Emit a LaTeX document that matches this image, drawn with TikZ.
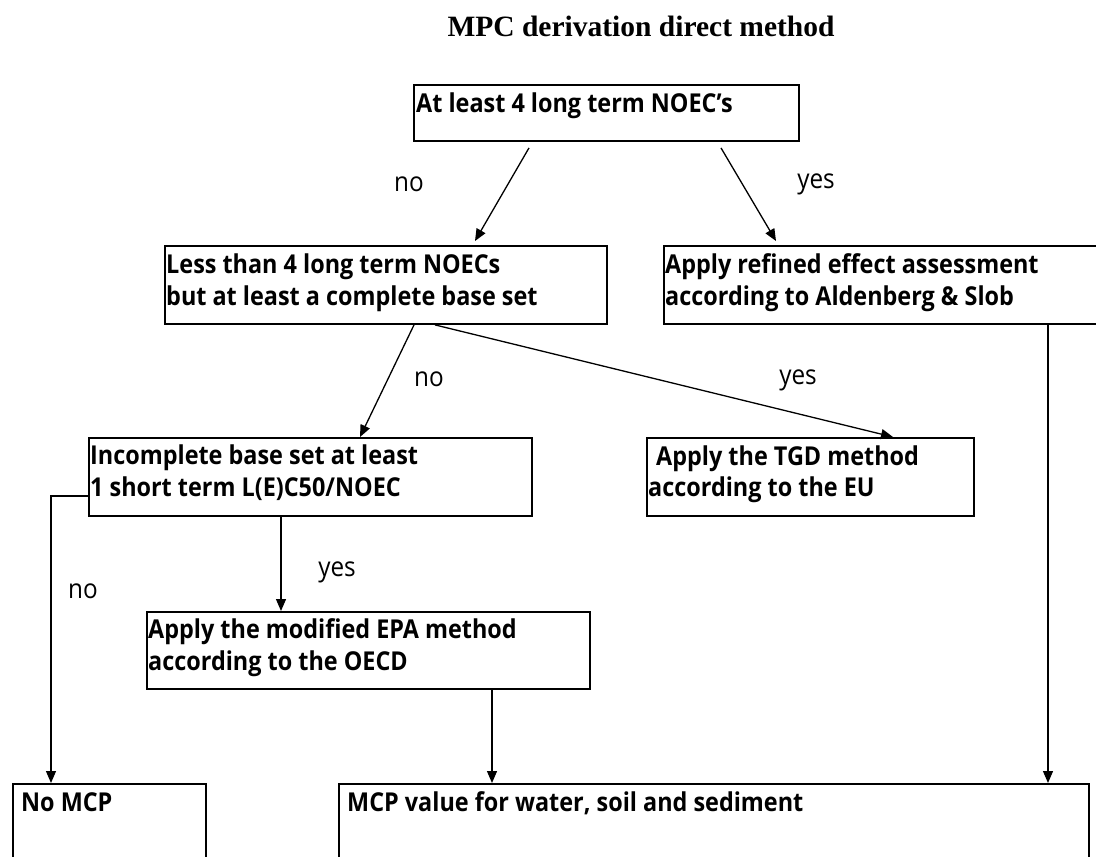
\documentclass[tikz,border=0pt]{standalone}
\usepackage{fontspec}
\setmainfont{Open Sans}[FakeStretch=0.9]
\newfontfamily\titlefont{Liberation Serif}
\usetikzlibrary{arrows.meta,calc}
\begin{document}
\begin{tikzpicture}[x=1pt,y=-1pt,
  box/.style={draw,line width=1.9pt,rectangle,anchor=north west,inner sep=0pt},
  txt/.style={anchor=base west,inner sep=0pt,font=\fontsize{26}{32}\selectfont\bfseries},
  lbl/.style={inner sep=0pt,font=\fontsize{27}{32}\selectfont},
  arr/.style={line width=1.3pt,-{Triangle[length=12pt,width=10pt]}}]
\useasboundingbox (0,0) rectangle (1096,857);
\clip (0,0) rectangle (1096,857);
\node[inner sep=0pt,anchor=base,font=\titlefont\fontsize{29.5}{34}\selectfont\bfseries] (title) at (641,36) {MPC derivation direct method};
% boxes
\node[box,minimum width=385pt,minimum height=56pt] (b1) at (413,84) {};
\node[box,minimum width=442pt,minimum height=78pt] (b2) at (164,245) {};
\node[box,minimum width=460pt,minimum height=78pt] (b3) at (663,245) {};
\node[box,minimum width=443pt,minimum height=78pt] (b4) at (88,437) {};
\node[box,minimum width=327pt,minimum height=78pt] (b5) at (646,437) {};
\node[box,minimum width=443pt,minimum height=77pt] (b6) at (146,611) {};
\node[box,minimum width=193pt,minimum height=110pt] (b7) at (12,783) {};
\node[box,minimum width=750pt,minimum height=110pt] (b8) at (338,783) {};
% texts
\node[txt] (t1) at (416,112) {At least 4 long term NOEC's};
\node[txt] (t2a) at (166,273) {Less than 4 long term NOECs};
\node[txt] (t2b) at (166,305) {but at least a complete base set};
\node[txt] (t3a) at (665,273) {Apply refined effect assessment};
\node[txt] (t3b) at (665,305) {according to Aldenberg \& Slob};
\node[txt] (t4a) at (90,464) {Incomplete base set at least};
\node[txt] (t4b) at (90,496) {1 short term L(E)C50/NOEC};
\node[txt] (t5a) at (656,465) {Apply the TGD method};
\node[txt] (t5b) at (648,496) {according to the EU};
\node[txt] (t6a) at (148,638) {Apply the modified EPA method};
\node[txt] (t6b) at (148,670) {according to the OECD};
\node[txt] (t7) at (21,811) {No MCP};
\node[txt] (t8) at (347,811) {MCP value for water, soil and sediment};
% connectors
\draw[arr] ([xshift=116pt,yshift=-6pt]b1.south west) -- ([xshift=311pt,yshift=4pt]b2.north west);
\draw[arr] ([xshift=308pt,yshift=-6pt]b1.south west) -- ([xshift=113pt,yshift=4pt]b3.north west);
\draw[arr] ([xshift=250pt]b2.south west) -- ([xshift=272pt]b4.north west);
\draw[arr] ([xshift=271pt]b2.south west) -- ([xshift=247pt]b5.north west);
\draw[arr] ([xshift=385pt]b3.south west) -- ([xshift=710pt]b8.north west);
\draw[arr] ([yshift=-59pt]b4.north west) -| ([xshift=39pt]b7.north west);
\draw[arr] ([xshift=193pt]b4.south west) -- ([xshift=135pt]b6.north west);
\draw[arr] ([xshift=346pt]b6.south west) -- ([xshift=154pt]b8.north west);
% labels
\node[lbl] (l1) at (409,184) {no};
\node[lbl] (l2) at (816,184) {yes};
\node[lbl] (l3) at (429,379) {no};
\node[lbl] (l4) at (798,380) {yes};
\node[lbl] (l5) at (83,591) {no};
\node[lbl] (l6) at (337,572) {yes};
\end{tikzpicture}
\end{document}
